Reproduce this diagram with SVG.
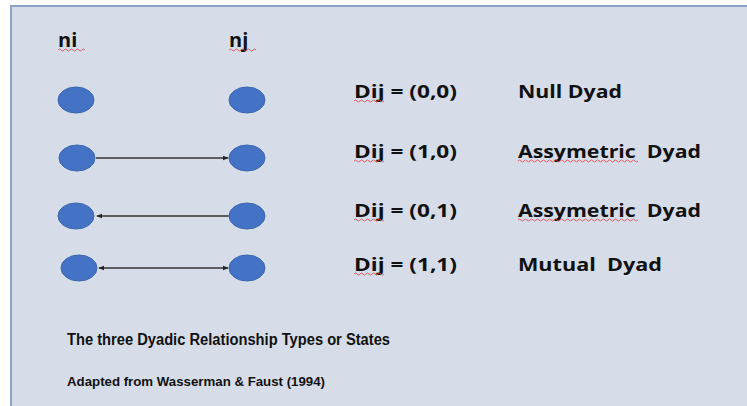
<svg xmlns="http://www.w3.org/2000/svg" width="747" height="406" viewBox="0 0 747 406">
<style>
.node{fill:#4472c4;stroke:#3d66b0;stroke-width:1}
.lbl{font-family:"Open Sans","DejaVu Sans",sans-serif;font-weight:bold;fill:#111;font-size:17px}
.top{font-family:"Open Sans","DejaVu Sans",sans-serif;font-weight:bold;fill:#111;font-size:20px}
.cap{font-family:"Liberation Sans",Arial,sans-serif;font-weight:bold;fill:#111}
.edge{stroke:#333;stroke-width:1.4;fill:none}
.sq{stroke:#e04040;stroke-width:0.8;fill:none}
</style>
<defs>
<marker id="ah" viewBox="0 0 10 10" refX="9" refY="5" markerWidth="6" markerHeight="6" markerUnits="userSpaceOnUse" orient="auto-start-reverse">
<path d="M0,1 L10,5 L0,9 z" fill="#222"/>
</marker>
</defs>
<rect x="0" y="0" width="747" height="406" fill="#ffffff"/>
<rect x="11" y="6" width="740" height="406" fill="#d6dde8" stroke="#8fa3c8" stroke-width="2"/>

<g id="labels-top">
<text class="top" x="58" y="47">ni</text>
<text class="top" x="229" y="47">nj</text>
<path class="sq" d="M58,50 q1.5,-2 3,0 t3,0 t3,0 t3,0 t3,0 t3,0 t3,0 t3,0 t3,0"/>
<path class="sq" d="M229,50 q1.5,-2 3,0 t3,0 t3,0 t3,0 t3,0 t3,0 t3,0 t3,0 t3,0"/>
</g>

<g id="connectors">
<line class="edge" x1="96" y1="158" x2="228" y2="158" marker-end="url(#ah)"/>
<line class="edge" x1="97" y1="216" x2="229" y2="216" marker-start="url(#ah)"/>
<line class="edge" x1="99" y1="268" x2="228" y2="268" marker-start="url(#ah)" marker-end="url(#ah)"/>
</g>

<g id="row1">
<ellipse id="n1i" class="node" cx="76" cy="100" rx="18" ry="13"/>
<ellipse id="n1j" class="node" cx="247" cy="100" rx="18" ry="13"/>
</g>
<g id="row2">
<ellipse id="n2i" class="node" cx="77" cy="158" rx="18" ry="13"/>
<ellipse id="n2j" class="node" cx="247" cy="158" rx="18" ry="13"/>
</g>
<g id="row3">
<ellipse id="n3i" class="node" cx="76" cy="216" rx="18" ry="13"/>
<ellipse id="n3j" class="node" cx="247" cy="216" rx="18" ry="13"/>
</g>
<g id="row4">
<ellipse id="n4i" class="node" cx="79" cy="268" rx="18" ry="13"/>
<ellipse id="n4j" class="node" cx="247" cy="268" rx="18" ry="13"/>
</g>

<g id="states">
<text class="lbl" x="354" y="98" textLength="103" lengthAdjust="spacingAndGlyphs">Dij = (0,0)</text>
<text class="lbl" x="518" y="98" textLength="104" lengthAdjust="spacingAndGlyphs">Null Dyad</text>
<text class="lbl" x="354" y="158" textLength="103" lengthAdjust="spacingAndGlyphs">Dij = (1,0)</text>
<text class="lbl" x="518" y="158" textLength="183" lengthAdjust="spacingAndGlyphs" xml:space="preserve">Assymetric  Dyad</text>
<text class="lbl" x="354" y="217" textLength="103" lengthAdjust="spacingAndGlyphs">Dij = (0,1)</text>
<text class="lbl" x="518" y="217" textLength="183" lengthAdjust="spacingAndGlyphs" xml:space="preserve">Assymetric  Dyad</text>
<text class="lbl" x="354" y="271" textLength="103" lengthAdjust="spacingAndGlyphs">Dij = (1,1)</text>
<text class="lbl" x="518" y="271" textLength="144" lengthAdjust="spacingAndGlyphs" xml:space="preserve">Mutual  Dyad</text>
<path class="sq" d="M354,101 q1.5,-2 3,0 t3,0 t3,0 t3,0 t3,0 t3,0 t3,0 t3,0 t3,0 t3,0"/>
<path class="sq" d="M354,161 q1.5,-2 3,0 t3,0 t3,0 t3,0 t3,0 t3,0 t3,0 t3,0 t3,0 t3,0"/>
<path class="sq" d="M354,220 q1.5,-2 3,0 t3,0 t3,0 t3,0 t3,0 t3,0 t3,0 t3,0 t3,0 t3,0"/>
<path class="sq" d="M354,274 q1.5,-2 3,0 t3,0 t3,0 t3,0 t3,0 t3,0 t3,0 t3,0 t3,0 t3,0"/>
<path class="sq" d="M518,161 q1.5,-2 3,0 t3,0 t3,0 t3,0 t3,0 t3,0 t3,0 t3,0 t3,0 t3,0 t3,0 t3,0 t3,0 t3,0 t3,0 t3,0 t3,0 t3,0 t3,0 t3,0 t3,0 t3,0 t3,0 t3,0 t3,0 t3,0 t3,0 t3,0 t3,0 t3,0 t3,0 t3,0 t3,0 t3,0 t3,0 t3,0 t3,0 t3,0 t3,0 t3,0"/>
<path class="sq" d="M518,220 q1.5,-2 3,0 t3,0 t3,0 t3,0 t3,0 t3,0 t3,0 t3,0 t3,0 t3,0 t3,0 t3,0 t3,0 t3,0 t3,0 t3,0 t3,0 t3,0 t3,0 t3,0 t3,0 t3,0 t3,0 t3,0 t3,0 t3,0 t3,0 t3,0 t3,0 t3,0 t3,0 t3,0 t3,0 t3,0 t3,0 t3,0 t3,0 t3,0 t3,0 t3,0"/>
</g>

<g id="caption">
<text class="cap" x="67" y="345" font-size="16" textLength="323" lengthAdjust="spacingAndGlyphs">The three Dyadic Relationship Types or States</text>
<text class="cap" x="67" y="386" font-size="13" textLength="258" lengthAdjust="spacingAndGlyphs">Adapted from Wasserman &amp; Faust (1994)</text>
</g>
</svg>
